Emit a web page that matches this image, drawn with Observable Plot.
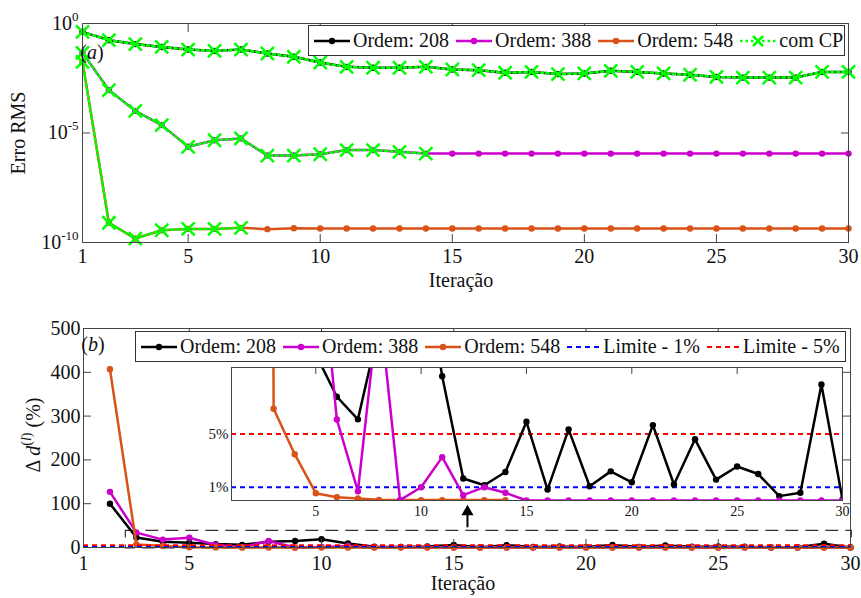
<!DOCTYPE html>
<html><head><meta charset="utf-8">
<script src="https://cdn.jsdelivr.net/npm/d3@7"></script>
<script src="https://cdn.jsdelivr.net/npm/@observablehq/plot@0.6"></script>
<style>
body{margin:0;background:#fff;}
#wrap{position:relative;width:861px;height:598px;font-family:"Liberation Serif","Times New Roman",serif;overflow:hidden;background:#fff}
#wrap > svg{position:absolute;}
.legend{position:absolute;background:#fff;border:1px solid #333;box-sizing:border-box;display:flex;align-items:center;font-size:20px;color:#111;white-space:nowrap;padding-left:5px}
.legend .item{display:flex;align-items:center;margin-right:7px}
.legend .item svg{display:block;margin-right:3px}
</style></head>
<body><div id="wrap"></div>
<script>
// ---------- DATA ----------
const iteracao = [1,2,3,4,5,6,7,8,9,10,11,12,13,14,15,16,17,18,19,20,21,22,23,24,25,26,27,28,29,30];
// (a) Erro RMS, stored as log10 exponents
const erroOrdem208 = [-0.38,-0.76,-0.94,-1.07,-1.19,-1.25,-1.19,-1.37,-1.52,-1.78,-1.98,-2.02,-2.02,-1.98,-2.10,-2.13,-2.25,-2.21,-2.31,-2.28,-2.16,-2.21,-2.28,-2.34,-2.44,-2.47,-2.47,-2.47,-2.21,-2.21];
const erroOrdem388 = [-1.34,-3.04,-3.99,-4.64,-5.63,-5.33,-5.25,-6.03,-6.03,-5.97,-5.78,-5.78,-5.86,-5.94,-5.94,-5.94,-5.94,-5.94,-5.94,-5.94,-5.94,-5.94,-5.94,-5.94,-5.94,-5.94,-5.94,-5.94,-5.94,-5.94];
const erroOrdem548 = [-1.75,-9.10,-9.82,-9.44,-9.38,-9.38,-9.33,-9.39,-9.35,-9.36,-9.36,-9.36,-9.36,-9.36,-9.36,-9.36,-9.36,-9.36,-9.36,-9.36,-9.36,-9.36,-9.36,-9.36,-9.36,-9.36,-9.36,-9.36,-9.36,-9.36];
const cpOrdem208 = [-0.38,-0.76,-0.94,-1.07,-1.19,-1.25,-1.19,-1.37,-1.52,-1.78,-1.98,-2.02,-2.02,-1.98,-2.10,-2.13,-2.25,-2.21,-2.31,-2.28,-2.16,-2.21,-2.28,-2.34,-2.44,-2.47,-2.47,-2.47,-2.21,-2.21];
const cpOrdem388 = [-1.34,-3.04,-3.99,-4.64,-5.63,-5.33,-5.25,-6.03,-6.03,-5.97,-5.78,-5.78,-5.86,-5.94];
const cpOrdem548 = [-1.75,-9.10,-9.82,-9.44,-9.38,-9.38,-9.33];
// (b) Delta d (%)
const iteracaoDelta = [2,3,4,5,6,7,8,9,10,11,12,13,14,15,16,17,18,19,20,21,22,23,24,25,26,27,28,29,30];
const deltaOrdem208 = [100,23,13,11,7.8,6.1,13,15,19,9.35,1.65,1.15,2.14,5.92,0.82,5.35,1.07,2.19,1.37,5.67,1.2,4.6,1.57,2.56,1.99,0.33,0.58,8.72,0.08];
const deltaOrdem388 = [127,34,18,22.4,6.09,0.7,15,0.03,1.0,3.26,0.4,1.0,0.58,0,0,0,0,0,0,0,0,0,0,0,0,0,0,0,0];
const deltaOrdem548 = [407,6.9,3.48,0.55,0.25,0.15,0.05,0.03,0.03,0.03,0.03,0.03,0.03,0.03,0.03,0.03,0.03,0.03,0.03,0.03,0.03,0.03,0.03,0.03,0.03,0.03,0.03,0.03,0.03];
const limites = [1, 5];
const seriesNames = ["Ordem: 208","Ordem: 388","Ordem: 548"];
const cpName = "com CP";
const limiteNames = ["Limite - 1%","Limite - 5%"];
// ticks
const xTicks = [1,5,10,15,20,25,30];
const topExpTicks = [-10,-5,0];
const bottomYTicks = [0,100,200,300,400,500];
const insetXTicks = [5,10,15,20,25,30];
const insetYTicks = [1,5];
// zoom box and arrow annotation (data units)
const zoomBox = [{x1:2.6, x2:30.05, y1:-2, y2:38}];
const insetArrow = [{x:12.2, y1:-2.05, y2:-0.85}];

// ---------- STYLE ----------
const FONT = '"Liberation Serif","Times New Roman",serif';
const C208 = "#000000", C388 = "#cc00cc", C548 = "#d95319", CCP = "#00ff00", CBLUE = "#0000ff", CRED = "#ff0000";
const AX = "#444";
const wrap = document.getElementById("wrap");

const rowsLog = (xs, es) => es.map((e,i) => ({x: xs[i], y: Math.pow(10, e)}));
const rows = (xs, ys) => ys.map((v,i) => ({x: xs[i], y: v}));

function seriesMarks(data, color, extra = {}) {
  return [
    Plot.line(data, {x:"x", y:"y", stroke: color, strokeWidth: 2.5, ...extra}),
    Plot.dot(data, {x:"x", y:"y", fill: color, r: 3.2, ...extra})
  ];
}

// ---------- (a) ----------
const cpAll = [
  ...rowsLog(iteracao, cpOrdem208).map(d => ({...d, s: 0})),
  ...rowsLog(iteracao, cpOrdem388).map(d => ({...d, s: 1})),
  ...rowsLog(iteracao, cpOrdem548).map(d => ({...d, s: 2}))
];
const topPlot = Plot.plot({
  width: 861, height: 300,
  marginLeft: 82, marginRight: 13, marginTop: 23, marginBottom: 58,
  style: {fontFamily: FONT, fontSize: "20px", color: "#111", background: "transparent", overflow: "visible"},
  x: {domain: [1, 30]},
  y: {type: "log", domain: [1e-10, 1]},
  marks: [
    ...seriesMarks(rowsLog(iteracao, erroOrdem548), C548),
    ...seriesMarks(rowsLog(iteracao, erroOrdem388), C388),
    ...seriesMarks(rowsLog(iteracao, erroOrdem208), C208),
    Plot.line(cpAll, {x:"x", y:"y", z:"s", stroke: CCP, strokeWidth: 2.5, strokeDasharray: "2.5,3"}),
    Plot.dot(cpAll, {x:"x", y:"y", symbol: "times", stroke: CCP, r: 6, strokeWidth: 2.5}),
    Plot.frame({stroke: AX}),
    Plot.axisX({anchor: "bottom", ticks: xTicks, tickSize: -8, tickPadding: 14, tickFormat: d => String(d), label: null, stroke: AX}),
    Plot.axisX({anchor: "top", ticks: xTicks, tickSize: -8, tickFormat: () => "", label: null, stroke: AX}),
    Plot.axisY({anchor: "left", ticks: topExpTicks.map(e => Math.pow(10, e)), tickSize: -8, tickPadding: 12, tickFormat: d => String(Math.round(Math.log10(d))), label: null, stroke: AX}),
    Plot.axisY({anchor: "right", ticks: topExpTicks.map(e => Math.pow(10, e)), tickSize: -8, tickFormat: () => "", label: null, stroke: AX})
  ]
});
topPlot.style.left = "0px"; topPlot.style.top = "0px";
wrap.appendChild(topPlot);
d3.select(topPlot).selectAll('g[aria-label="y-axis tick label"] text').each(function(){
  const t = d3.select(this); const e = t.text();
  if (!e) return;
  t.text("10");
  t.append("tspan").attr("dy", "-9").attr("font-size", "13").text(e);
});
{
  const s = d3.select(topPlot);
  s.append("text").attr("transform", "translate(25,133) rotate(-90)").attr("text-anchor", "middle")
    .attr("font-size", 20).attr("fill", "#111").text("Erro RMS");
  s.append("text").attr("x", 461).attr("y", 287).attr("text-anchor", "middle")
    .attr("font-size", 20).attr("fill", "#111").text("Iteração");
  s.append("text").attr("x", 92).attr("y", 59).attr("font-size", 20).attr("fill", "#111")
    .html('(<tspan font-style="italic">a</tspan>)');
}

// ---------- (b) ----------
const bottomPlot = Plot.plot({
  width: 861, height: 298,
  marginLeft: 83, marginRight: 11, marginTop: 28, marginBottom: 51,
  style: {fontFamily: FONT, fontSize: "20px", color: "#111", background: "transparent", overflow: "visible"},
  x: {domain: [1, 30]},
  y: {domain: [0, 500]},
  marks: [
    Plot.rect(zoomBox, {x1:"x1", x2:"x2", y1:"y1", y2:"y2", fill: "none", stroke: "#333", strokeWidth: 1.2, strokeDasharray: "13,7"}),
    ...seriesMarks(rows(iteracaoDelta, deltaOrdem208), C208),
    ...seriesMarks(rows(iteracaoDelta, deltaOrdem388), C388),
    ...seriesMarks(rows(iteracaoDelta, deltaOrdem548), C548),
    Plot.ruleY([limites[1]], {stroke: CRED, strokeWidth: 2, strokeDasharray: "5,4"}),
    Plot.ruleY([limites[0]], {stroke: CBLUE, strokeWidth: 2, strokeDasharray: "5,4"}),
    Plot.frame({stroke: AX}),
    Plot.axisX({anchor: "bottom", ticks: xTicks, tickSize: -8, tickPadding: 16, tickFormat: d => String(d), label: null, stroke: AX}),
    Plot.axisX({anchor: "top", ticks: xTicks, tickSize: -8, tickFormat: () => "", label: null, stroke: AX}),
    Plot.axisY({anchor: "left", ticks: bottomYTicks, tickSize: -8, tickPadding: 11, tickFormat: d => String(d), label: null, stroke: AX}),
    Plot.axisY({anchor: "right", ticks: bottomYTicks, tickSize: -8, tickFormat: () => "", label: null, stroke: AX})
  ]
});
bottomPlot.style.left = "0px"; bottomPlot.style.top = "300px";
wrap.appendChild(bottomPlot);
{
  const s = d3.select(bottomPlot);
  s.append("text").attr("transform", "translate(40,135) rotate(-90)").attr("text-anchor", "middle")
    .attr("font-size", 20).attr("fill", "#111")
    .html('<tspan>Δ </tspan><tspan font-style="italic">d</tspan><tspan dy="-9" font-size="14">(<tspan font-style="italic">l</tspan>)</tspan><tspan dy="9"> (%)</tspan>');
  s.append("text").attr("x", 463).attr("y", 290).attr("text-anchor", "middle")
    .attr("font-size", 20).attr("fill", "#111").text("Iteração");
  s.append("text").attr("x", 93).attr("y", 51).attr("font-size", 20).attr("fill", "#111")
    .html('(<tspan font-style="italic">b</tspan>)');
}

// ---------- inset ----------
const insetPlot = Plot.plot({
  width: 651, height: 168,
  marginLeft: 35, marginRight: 5, marginTop: 5, marginBottom: 30,
  style: {fontFamily: FONT, fontSize: "14px", color: "#111", background: "transparent", overflow: "visible"},
  x: {domain: [1, 30]},
  y: {domain: [0, 10]},
  marks: [
    Plot.frame({fill: "white", stroke: "none"}),
    Plot.ruleY([limites[1]], {stroke: CRED, strokeWidth: 2, strokeDasharray: "5,4"}),
    Plot.ruleY([limites[0]], {stroke: CBLUE, strokeWidth: 2, strokeDasharray: "5,4"}),
    ...seriesMarks(rows(iteracaoDelta, deltaOrdem548).filter(d => d.x <= 14), C548, {clip: true}),
    ...seriesMarks(rows(iteracaoDelta, deltaOrdem208), C208, {clip: true}),
    ...seriesMarks(rows(iteracaoDelta, deltaOrdem388), C388, {clip: true}),
    Plot.frame({stroke: AX}),
    Plot.axisX({anchor: "bottom", ticks: insetXTicks, tickSize: 0, tickPadding: 6, tickFormat: d => String(d), label: null}),
    Plot.axisX({anchor: "top", ticks: insetXTicks, tickSize: -6, tickFormat: () => "", label: null, stroke: AX}),
    Plot.axisY({anchor: "left", ticks: insetYTicks, tickSize: 0, tickPadding: 3, tickFormat: d => d + "%", label: null, fontSize: 15}),
    Plot.ruleX(insetArrow, {x: "x", y1: "y1", y2: "y2", stroke: "#000", strokeWidth: 2}),
    Plot.dot(insetArrow, {x: "x", y: "y2", symbol: "triangle", fill: "#000", r: 4.5})
  ]
});
insetPlot.style.left = "196px"; insetPlot.style.top = "362px";
wrap.appendChild(insetPlot);

// ---------- legends ----------
function sample(kind, color) {
  const w = kind === "dash" ? 33 : 36;
  let s = `<svg width="${w}" height="14" viewBox="0 0 ${w} 14">`;
  if (kind === "dot") {
    s += `<line x1="0" y1="7" x2="${w}" y2="7" stroke="${color}" stroke-width="2.5"/><circle cx="${w/2}" cy="7" r="3.2" fill="${color}"/>`;
  } else if (kind === "cp") {
    s += `<line x1="0" y1="7" x2="${w}" y2="7" stroke="${color}" stroke-width="2.5" stroke-dasharray="2.5,3"/><path d="M${w/2-5},2L${w/2+5},12M${w/2+5},2L${w/2-5},12" stroke="${color}" stroke-width="2.5"/>`;
  } else {
    s += `<line x1="0" y1="7" x2="${w}" y2="7" stroke="${color}" stroke-width="2" stroke-dasharray="5,4"/>`;
  }
  return s + `</svg>`;
}
function legend(left, top, width, height, items) {
  const div = document.createElement("div");
  div.className = "legend";
  Object.assign(div.style, {left: left + "px", top: top + "px", width: width + "px", height: height + "px"});
  div.innerHTML = items.map(it => `<div class="item">${sample(it.kind, it.color)}<span></span></div>`).join("");
  div.querySelectorAll(".item span").forEach((sp, i) => sp.textContent = items[i].label);
  wrap.appendChild(div);
}
const seriesColors = [C208, C388, C548];
legend(308, 25, 537, 31, [
  ...seriesNames.map((n, i) => ({label: n, color: seriesColors[i], kind: "dot"})),
  {label: cpName, color: CCP, kind: "cp"}
]);
legend(135, 331, 711, 31, [
  ...seriesNames.map((n, i) => ({label: n, color: seriesColors[i], kind: "dot"})),
  {label: limiteNames[0], color: CBLUE, kind: "dash"},
  {label: limiteNames[1], color: CRED, kind: "dash"}
]);
</script>
</body></html>
